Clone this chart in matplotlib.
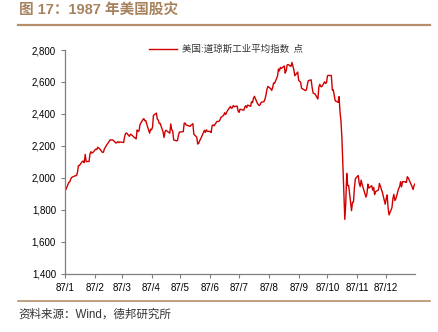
import matplotlib
matplotlib.use("Agg")
import matplotlib.pyplot as plt
import matplotlib.dates as mdates
import pandas as pd

# DJIA daily close, 1987
dates = [
    "01-02", "01-05", "01-06", "01-07", "01-08", "01-09", "01-12", "01-13", "01-14", "01-15",
    "01-16", "01-19", "01-20", "01-21", "01-22", "01-23", "01-26", "01-27", "01-28", "01-29",
    "01-30", "02-02", "02-03", "02-04", "02-05", "02-06", "02-09", "02-10", "02-11", "02-12",
    "02-13", "02-17", "02-18", "02-19", "02-20", "02-23", "02-24", "02-25", "02-26", "02-27",
    "03-02", "03-03", "03-04", "03-05", "03-06", "03-09", "03-10", "03-11", "03-12", "03-13",
    "03-16", "03-17", "03-18", "03-19", "03-20", "03-23", "03-24", "03-25", "03-26", "03-27",
    "03-30", "03-31", "04-01", "04-02", "04-03", "04-06", "04-07", "04-08", "04-09", "04-10",
    "04-13", "04-14", "04-15", "04-16", "04-20", "04-21", "04-22", "04-23", "04-24", "04-27",
    "04-28", "04-29", "04-30", "05-01", "05-04", "05-05", "05-06", "05-07", "05-08", "05-11",
    "05-12", "05-13", "05-14", "05-15", "05-18", "05-19", "05-20", "05-21", "05-22", "05-26",
    "05-27", "05-28", "05-29", "06-01", "06-02", "06-03", "06-04", "06-05", "06-08", "06-09",
    "06-10", "06-11", "06-12", "06-15", "06-16", "06-17", "06-18", "06-19", "06-22", "06-23",
    "06-24", "06-25", "06-26", "06-29", "06-30", "07-01", "07-02", "07-06", "07-07", "07-08",
    "07-09", "07-10", "07-13", "07-14", "07-15", "07-16", "07-17", "07-20", "07-21", "07-22",
    "07-23", "07-24", "07-27", "07-28", "07-29", "07-30", "07-31", "08-03", "08-04", "08-05",
    "08-06", "08-07", "08-10", "08-11", "08-12", "08-13", "08-14", "08-17", "08-18", "08-19",
    "08-20", "08-21", "08-24", "08-25", "08-26", "08-27", "08-28", "08-31", "09-01", "09-02",
    "09-03", "09-04", "09-08", "09-09", "09-10", "09-11", "09-14", "09-15", "09-16", "09-17",
    "09-18", "09-21", "09-22", "09-23", "09-24", "09-25", "09-28", "09-29", "09-30", "10-01",
    "10-02", "10-05", "10-06", "10-07", "10-08", "10-09", "10-12", "10-13", "10-14", "10-15",
    "10-16", "10-19", "10-20", "10-21", "10-22", "10-23", "10-26", "10-27", "10-28", "10-29",
    "10-30", "11-02", "11-03", "11-04", "11-05", "11-06", "11-09", "11-10", "11-11", "11-12",
    "11-13", "11-16", "11-17", "11-18", "11-19", "11-20", "11-23", "11-24", "11-25", "11-27",
    "11-30", "12-01", "12-02", "12-03", "12-04", "12-07", "12-08", "12-09", "12-10", "12-11",
    "12-14", "12-15", "12-16", "12-17", "12-18", "12-21", "12-22", "12-23", "12-24", "12-28",
    "12-29", "12-30", "12-31",
]
dow_close = [
    1927, 1971, 1974, 1993, 2002, 2005, 2013, 2013, 2035, 2076,
    2076, 2102, 2104, 2094, 2146, 2101, 2102, 2150, 2163, 2154,
    2158, 2179, 2176, 2191, 2186, 2181, 2158, 2160, 2182, 2190,
    2202, 2237, 2236, 2237, 2235, 2217, 2221, 2226, 2220, 2224,
    2221, 2221, 2257, 2277, 2280, 2259, 2273, 2269, 2265, 2258,
    2243, 2299, 2289, 2294, 2333, 2364, 2370, 2357, 2358, 2336,
    2279, 2304, 2300, 2316, 2390, 2405, 2367, 2361, 2339, 2340,
    2287, 2252, 2288, 2297, 2279, 2337, 2300, 2293, 2237, 2231,
    2233, 2266, 2286, 2286, 2289, 2342, 2342, 2330, 2329, 2321,
    2329, 2333, 2338, 2272, 2254, 2211, 2215, 2231, 2242, 2297,
    2284, 2300, 2291, 2290, 2283, 2326, 2331, 2325, 2352, 2353,
    2353, 2360, 2377, 2391, 2407, 2396, 2408, 2420, 2446, 2435,
    2437, 2452, 2445, 2449, 2419, 2409, 2429, 2423, 2443, 2451,
    2439, 2455, 2447, 2476, 2470, 2497, 2510, 2467, 2458, 2452,
    2458, 2472, 2477, 2493, 2518, 2553, 2572, 2557, 2547, 2566,
    2594, 2592, 2636, 2681, 2669, 2691, 2685, 2700, 2655, 2670,
    2706, 2709, 2697, 2722, 2701, 2676, 2639, 2662, 2610, 2603,
    2599, 2561, 2546, 2550, 2581, 2608, 2613, 2566, 2531, 2527,
    2525, 2493, 2568, 2585, 2571, 2570, 2601, 2590, 2596, 2639,
    2641, 2640, 2549, 2551, 2517, 2482, 2472, 2508, 2413, 2355,
    2247, 1739, 1841, 2027, 1951, 1950, 1794, 1846, 1847, 1938,
    1994, 2014, 1963, 1945, 1985, 1959, 1900, 1878, 1899, 1960,
    1935, 1950, 1922, 1939, 1895, 1913, 1923, 1964, 1947, 1910,
    1834, 1868, 1892, 1812, 1767, 1812, 1868, 1896, 1858, 1867,
    1932, 1943, 1975, 1943, 1975, 1974, 1970, 2006, 1999, 1943,
    1926, 1950, 1962,
]
series_label = "美国:道琼斯工业平均指数  点"
title_text = "图 17：1987 年美国股灾"
source_text = "资料来源：Wind，德邦研究所"

x = pd.to_datetime(["1987-" + d for d in dates])

brown = "#A7825F"
rule = "#B58F6C"
red = "#D00000"
latin_cjk = ["Liberation Sans", "Noto Sans CJK SC"]

fig = plt.figure(figsize=(4.38, 3.32), dpi=100)
ax = fig.add_axes([65 / 438, 1 - 273.5 / 332, 350 / 438, 223.5 / 332])

ax.plot(x, dow_close, color=red, linewidth=1.0, label=series_label)

ax.set_ylim(1400, 2800)
ax.set_yticks(range(1400, 2801, 200))
ax.set_yticklabels([f"{v:,}" for v in range(1400, 2801, 200)])
ax.set_xlim(pd.Timestamp("1987-01-01"), pd.Timestamp("1987-12-31"))
ax.xaxis.set_major_locator(mdates.MonthLocator())
ax.xaxis.set_major_formatter(mdates.DateFormatter("87/%-m"))

for side in ["top", "right"]:
    ax.spines[side].set_visible(False)
for side in ["left", "bottom"]:
    ax.spines[side].set_color("#7F7F7F")
    ax.spines[side].set_linewidth(0.9)
ax.tick_params(axis="both", colors="#7F7F7F", length=3, width=0.8, direction="out")
for lab in ax.get_xticklabels() + ax.get_yticklabels():
    lab.set_family("Liberation Sans")
    lab.set_fontsize(7)
    lab.set_color("black")

leg = ax.legend(loc="lower center", bbox_to_anchor=(0.46, 0.965), frameon=False,
                handlelength=3.0, handletextpad=0.5, borderaxespad=0,
                prop={"family": ["Noto Sans CJK SC", "DejaVu Sans"], "size": 6.8})
for t in leg.get_texts():
    t.set_color("#333333")

fig.text(19 / 438, 1 - 10 / 332, title_text, family=latin_cjk, fontsize=10.5,
         fontweight="bold", color=brown, va="center", ha="left")
fig.add_artist(plt.Line2D([18 / 438, 430 / 438], [1 - 25 / 332, 1 - 25 / 332],
                          color=rule, linewidth=1.6))
fig.add_artist(plt.Line2D([18 / 438, 430 / 438], [1 - 301 / 332, 1 - 301 / 332],
                          color=rule, linewidth=1.2))
fig.text(18 / 438, 1 - 315 / 332, source_text, family=latin_cjk, fontsize=8.3,
         color="#333333", va="center", ha="left")

fig.savefig("out.png", dpi=100)
plt.close(fig)
